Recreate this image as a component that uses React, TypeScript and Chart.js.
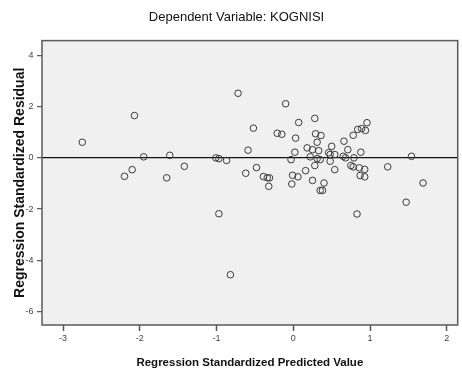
import React, { useEffect, useRef } from "react";
import { Chart, registerables } from "chart.js";

Chart.register(...registerables);

const predicted = [
  -2.75, -2.07, -1.95, -2.1, -2.2, -1.61, -1.42, -1.65, -1.01, -0.97,
  -0.87, -0.97, -0.82, -0.72, -0.52, -0.59, -0.62, -0.48, -0.1, -0.39,
  -0.34, -0.31, -0.32, -0.21, -0.15, 0.07, 0.28, 0.03, -0.03, 0.02,
  -0.01, -0.02, 0.06, 0.16, 0.25, 0.28, 0.18, 0.22, 0.25, 0.29,
  0.36, 0.31, 0.33, 0.31, 0.35, 0.4, 0.35, 0.38, 0.48, 0.5,
  0.48, 0.54, 0.54, 0.66, 0.71, 0.65, 0.68, 0.78, 0.84, 0.89,
  0.94, 0.96, 0.79, 0.88, 0.75, 0.78, 0.86, 0.93, 0.87, 0.93,
  0.83, 1.23, 1.54, 1.69, 1.47, 0.46,
];

const residual = [
  0.61, 1.65, 0.04, -0.46, -0.72, 0.1, -0.33, -0.78, 0.0, -0.03,
  -0.1, -2.18, -4.56, 2.52, 1.16, 0.3, -0.6, -0.38, 2.11, -0.73,
  -0.78, -0.78, -1.11, 0.96, 0.92, 1.38, 1.54, 0.77, -0.07, 0.22,
  -0.68, -1.02, -0.74, -0.5, -0.88, -0.3, 0.39, 0.04, 0.32, 0.94,
  0.87, 0.61, 0.28, -0.03, -0.07, -0.98, -1.27, -1.27, 0.13, 0.45,
  -0.13, 0.13, -0.46, 0.65, 0.32, 0.06, 0.0, 0.88, 1.11, 1.14,
  1.07, 1.37, 0.0, 0.22, -0.3, -0.35, -0.39, -0.45, -0.69, -0.74,
  -2.19, -0.35, 0.06, -0.98, -1.73, 0.2,
];

const xTickValues = [-3, -2, -1, 0, 1, 2];
const yTickValues = [-6, -4, -2, 0, 2, 4];

const chartTitle = "Dependent Variable: KOGNISI";
const xAxisTitle = "Regression Standardized Predicted Value";
const yAxisTitle = "Regression Standardized Residual";

const FONT = "'Liberation Sans', Arial, Helvetica, sans-serif";

export default function App() {
  const ref = useRef<HTMLCanvasElement | null>(null);

  useEffect(() => {
    document.body.style.margin = "0";
    const canvas = ref.current;
    if (!canvas) return;

    const plotFrame = {
      id: "plotFrame",
      beforeDraw(chart: any) {
        const { ctx, chartArea: a } = chart;
        ctx.save();
        ctx.fillStyle = "#ffffff";
        ctx.fillRect(0, 0, chart.width, chart.height);
        ctx.fillStyle = "#f0f0f0";
        ctx.fillRect(a.left, a.top, a.right - a.left, a.bottom - a.top);
        ctx.restore();
      },
      afterDraw(chart: any) {
        const { ctx, chartArea: a } = chart;
        ctx.save();
        ctx.strokeStyle = "#5a5a5a";
        ctx.lineWidth = 1.5;
        ctx.strokeRect(a.left, a.top, a.right - a.left, a.bottom - a.top);
        ctx.restore();
      },
    };

    const chart = new Chart(canvas, {
      type: "scatter",
      data: {
        datasets: [
          {
            data: predicted.map((x, i) => ({ x, y: residual[i] })),
            pointRadius: 3.3,
            pointHoverRadius: 3.3,
            borderWidth: 1,
            borderColor: "#3a3a3a",
            backgroundColor: "rgba(0,0,0,0)",
          },
        ],
      },
      options: {
        animation: false,
        responsive: false,
        devicePixelRatio: 1,
        events: [],
        layout: { padding: { left: 12, right: 1, top: 0, bottom: 0 } },
        plugins: {
          legend: { display: false },
          tooltip: { enabled: false },
          title: {
            display: true,
            text: chartTitle,
            color: "#111",
            font: { family: FONT, size: 13, weight: "normal" },
            padding: { top: 10, bottom: 15 },
          },
        },
        scales: {
          x: {
            type: "linear",
            min: -3.275,
            max: 2.142,
            afterBuildTicks: (s: any) => {
              s.ticks = xTickValues.map((v) => ({ value: v }));
            },
            afterFit: (s: any) => {
              s.height = 46;
            },
            ticks: {
              color: "#444",
              font: { family: FONT, size: 9 },
              padding: 2,
              maxRotation: 0,
            },
            grid: {
              drawOnChartArea: false,
              tickLength: 6,
              tickColor: "#555",
              tickWidth: 1.5,
            },
            border: { display: false },
            title: {
              display: true,
              text: xAxisTitle,
              color: "#111",
              font: { family: FONT, size: 11.5, weight: "bold" },
              padding: { top: 0, bottom: 1 },
            },
          },
          y: {
            type: "linear",
            min: -6.52,
            max: 4.574,
            afterBuildTicks: (s: any) => {
              s.ticks = yTickValues.map((v) => ({ value: v }));
            },
            afterFit: (s: any) => {
              s.width = 30;
            },
            ticks: {
              color: "#444",
              font: { family: FONT, size: 9 },
              padding: 3.5,
            },
            grid: {
              color: (c: any) =>
                c.tick && c.tick.value === 0 ? "#111" : "rgba(0,0,0,0)",
              lineWidth: 1.3,
              tickLength: 5,
              tickColor: "#555",
              tickWidth: 1.2,
            },
            border: { display: false },
            title: {
              display: true,
              text: yAxisTitle,
              color: "#111",
              font: { family: FONT, size: 14, weight: "bold" },
              padding: { top: 0, bottom: 0 },
            },
          },
        },
      },
      plugins: [plotFrame],
    } as any);

    return () => chart.destroy();
  }, []);

  return (
    <canvas
      ref={ref}
      width={462}
      height={371}
      style={{ display: "block", width: 462, height: 371 }}
    />
  );
}
